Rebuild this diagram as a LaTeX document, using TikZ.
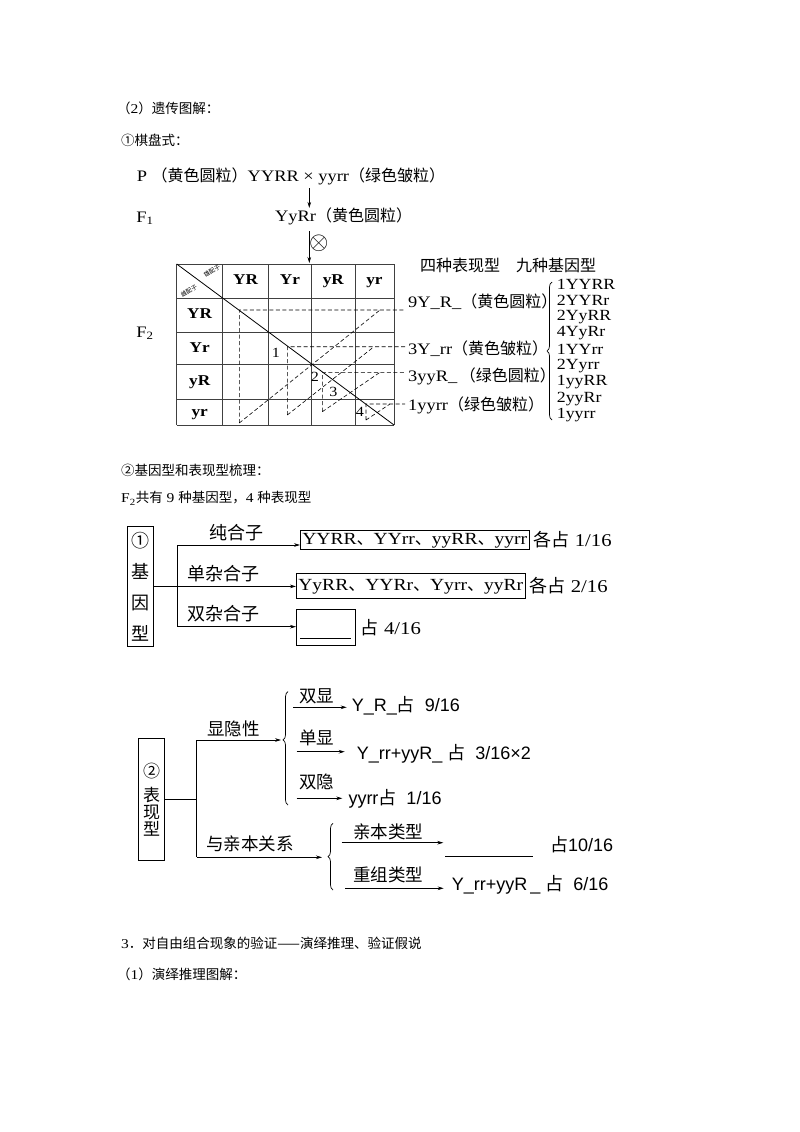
\documentclass[tikz,border=0pt]{standalone}
\usepackage{fontspec}
\setmainfont{Liberation Serif}[FakeStretch=1.15]
\newfontfamily\cjk{Noto Sans CJK SC}
\newfontfamily\lsans{Liberation Sans}
\usetikzlibrary{arrows.meta,calc,decorations.pathreplacing}
\newcommand\zh[1]{{\cjk #1}}
\newcommand\fs[1]{\fontsize{#1}{#1}\selectfont}

\begin{document}
\begin{tikzpicture}[x=1pt,y=-1pt,>={Stealth[length=6pt,width=3.6pt]},
  every node/.style={inner sep=0pt},
  head/.style={anchor=west,font=\fs{13.5}},
  big/.style={font=\fs{16}},
  cell/.style={font=\fs{15}\bfseries,text height=10.5pt,text depth=3pt},
  tri/.style={dash pattern=on 4pt off 2.5pt,line width=0.6pt},
  gridline/.style={line width=0.8pt,black!75},
  conn/.style={line width=0.7pt},
  lbl/.style={font=\fs{18}\cjk},
  lbs/.style={font=\fs{17.5}\cjk},
  box/.style={draw,line width=0.7pt,anchor=west,font=\fs{17},inner xsep=2pt,text height=12pt,text depth=3.5pt},
  res/.style={anchor=west,font=\fs{18}\lsans},
  bracel/.style={decorate,line width=0.7pt,decoration={brace,amplitude=5pt,#1}},
  bracel/.default={aspect=0.5},
]
\useasboundingbox (0,0) rectangle (800,1132);

% headings
\node[head] (h1) at (117,108) {\zh{（}2\zh{）遗传图解：}};
\node[head] (h2) at (121,140) {\zh{①棋盘式：}};

% P and F1
\node[big,anchor=west] (P) at (136.7,176.7) {P \zh{（黄色圆粒）}YYRR × yyrr\zh{（绿色皱粒）}};
\node[big] (F1) at (145,218.3) {F\textsubscript{1}};
\node[big,anchor=west] (F1gen) at (275,216.7) {YyRr\zh{（黄色圆粒）}};
\node[big] (F2) at (145,333.3) {F\textsubscript{2}};
\coordinate (cross) at (309.3,188);
\coordinate (gtop) at (309.3,263);
\draw[->,conn] (cross) -- (cross |- F1gen.north);
\draw[->,conn] ($(cross |- F1gen.south)+(0,6)$) -- (gtop);
\node[font=\fs{24}] (self) at (318.7,243.3) {$\otimes$};

% Punnett grid
\foreach \x in {176.7,222.7,268.3,311.7,355,394}
  \draw[gridline] (\x,264) -- (\x,425);
\foreach \y in {264,298,332,364.5,399.5,425}
  \draw[gridline] (176.7,\y) -- (394,\y);
\draw[line width=0.8pt] (176.7,264) -- (394,425);
\node[font=\fs{6}\cjk,rotate=33] (male) at (212,271) {雄配子};
\node[font=\fs{6}\cjk,rotate=33] (female) at (189,291) {雌配子};
\foreach \g/\x in {YR/245.5,Yr/290,yR/333.3,yr/374.5}
  \node[cell] (col\g) at (\x,281) {\g};
\foreach \g/\y in {YR/315,Yr/348.3,yR/382,yr/412.3}
  \node[cell] (row\g) at (199.7,\y) {\g};
\foreach \a/\b/\c/\d in {239.3/310/423/380,287.3/346.7/415/374,322.3/372.3/411.7/380,366/404/420/390}
  \draw[tri] (\a,\c) -- (\a,\b) -- (405,\b) (\a,\c) -- (\d,\b);
\foreach \n/\x/\y in {1/276/353,2/315/376.7,3/333.3/391.7,4/360/411.7}
  \node[font=\fs{14}] (num\n) at (\x,\y) {\n};

% phenotypes and genotypes
\node[big,anchor=west] (kinds) at (420,265) {\zh{四种表现型\quad 九种基因型}};
\node[big,anchor=west] (ph1) at (408,301.7) {9Y\_R\_\zh{（黄色圆粒）}};
\node[big,anchor=west] (ph2) at (408,348.3) {3Y\_rr\zh{（黄色皱粒）}};
\node[big,anchor=west] (ph3) at (408,376.7) {3yyR\_\,\zh{（绿色圆粒）}};
\node[big,anchor=west] (ph4) at (408,405) {1yyrr\zh{（绿色皱粒）}};
\draw[bracel] (552,420) -- (552,282);
\foreach \g [count=\i from 0] in {1YYRR,2YYRr,2YyRR,4YyRr,1YYrr,2Yyrr,1yyRR,2yyRr,1yyrr}
  \node[font=\fs{15.5},anchor=west] (geno\i) at (556.7,{284.3+\i*16.35}) {\g};

% genotype tree
\node[head] (h3) at (121,470) {\zh{②基因型和表现型梳理：}};
\node[head] (h4) at (121,498.3) {F\textsubscript{2}\zh{共有} 9 \zh{种基因型，}4 \zh{种表现型}};
\node[draw,line width=0.8pt,align=center,font=\fontsize{18}{31}\selectfont\cjk,inner xsep=4pt,minimum height=120.7pt] (gbox) at (140,586.4) {①\\基\\因\\型};
\node[box,minimum height=18.3pt] (b1) at (300,539.8) {YYRR\zh{、}YYrr\zh{、}yyRR\zh{、}yyrr};
\node[box,minimum height=25pt] (b2) at (296,585.8) {YyRR\zh{、}YYRr\zh{、}Yyrr\zh{、}yyRr};
\node[draw,line width=0.7pt,anchor=west,minimum width=59pt,minimum height=35.7pt] (b3) at (296,627.2) {};
\draw[line width=0.7pt] ($(b3.south west)+(4,-6.7)$) -- ($(b3.south east)+(-5,-6.7)$);
\node[anchor=west,font=\fs{18}] (p1) at ([xshift=4pt]b1.east) {\zh{各占} 1/16};
\node[anchor=west,font=\fs{18}] (p2) at ([xshift=4pt]b2.east) {\zh{各占} 2/16};
\node[anchor=west,font=\fs{18}] (p3) at ([xshift=5pt]b3.east) {\zh{占} 4/16};
\coordinate (jtop) at (177.3,545);
\coordinate (jbot) at (177.3,626.7);
\draw[conn] (jtop) -- (jbot);
\draw[->,conn] (gbox.east) -- (gbox.east -| b2.west);
\draw[->,conn] (jtop) -- (jtop -| b1.west);
\draw[->,conn] (jbot) -- (jbot -| b3.west);
\node[lbl] (pure) at (236.7,532.7) {纯合子};
\node[lbl] (single) at (223.3,573.3) {单杂合子};
\node[lbl] (double) at (223.3,613.3) {双杂合子};

% phenotype tree
\node[draw,line width=0.8pt,align=center,font=\fontsize{17}{17}\selectfont\cjk,inner xsep=4.5pt,minimum height=121.7pt] (pbox) at (151.7,799.2) {②\\[7pt]表\\现\\型};
\coordinate (ktop) at (196.7,740);
\coordinate (kbot) at (196.7,857.3);
\coordinate (tip1) at (281,740);
\coordinate (tip2) at (322,857.3);
\draw[conn] (pbox.east) -- (pbox.east -| ktop);
\draw[conn] (ktop) -- (kbot);
\draw[->,conn] (ktop) -- (tip1);
\draw[->,conn] (kbot) -- (tip2);
\node[lbs] (domin) at (233.3,729) {显隐性};
\node[lbs] (parent) at (250,844.3) {与亲本关系};
\draw[bracel={aspect=0.574}] (288,805) -- (288,691.7);
\draw[bracel] (333,890) -- (333,823.3);

\node[lbs] (dd) at (316.7,696.7) {双显};
\node[lbs] (sd) at (316.7,738.3) {单显};
\node[lbs] (rr) at (316.7,781.7) {双隐};
\node[res] (r1) at (351.7,705.7) {Y\_R\_\zh{占}\ \ 9/16};
\node[res] (r2) at (356.7,753.3) {Y\_rr+yyR\_ \zh{占}\ \ 3/16×2};
\node[res] (r3) at (348.3,798.3) {yyrr\zh{占}\ \ 1/16};
\coordinate (s1) at (293.3,707.3);
\coordinate (s2) at (296.7,751.7);
\coordinate (s3) at (296.7,798.3);
\draw[->,conn,shorten >=5pt] (s1) -- (s1 -| r1.west);
\draw[->,conn,shorten >=12pt] (s2) -- (s2 -| r2.west);
\draw[->,conn,shorten >=6pt] (s3) -- (s3 -| r3.west);

\node[lbs] (ptype) at (388.3,831.7) {亲本类型};
\node[lbs] (rtype) at (388.3,875) {重组类型};
\coordinate (s4) at (341.7,842.7);
\coordinate (e4) at (443.3,842.7);
\coordinate (s5) at (345,888.3);
\draw[->,conn] (s4) -- (e4);
\draw[conn] (445,856.7) -- (533.3,856.7);
\node[res] (r4) at (550,845) {\zh{占}10/16};
\node[res] (r5) at (451.7,885) {Y\_rr+yyR\,\_ \zh{占}\ \ 6/16};
\draw[->,conn,shorten >=8pt] (s5) -- (s5 -| r5.west);

% closing headings
\node[head] (h5) at (121,943.3) {3\zh{．对自由组合现象的验证——演绎推理、验证假说}};
\node[head] (h6) at (117,974) {\zh{（}1\zh{）演绎推理图解：}};
\end{tikzpicture}
\end{document}
